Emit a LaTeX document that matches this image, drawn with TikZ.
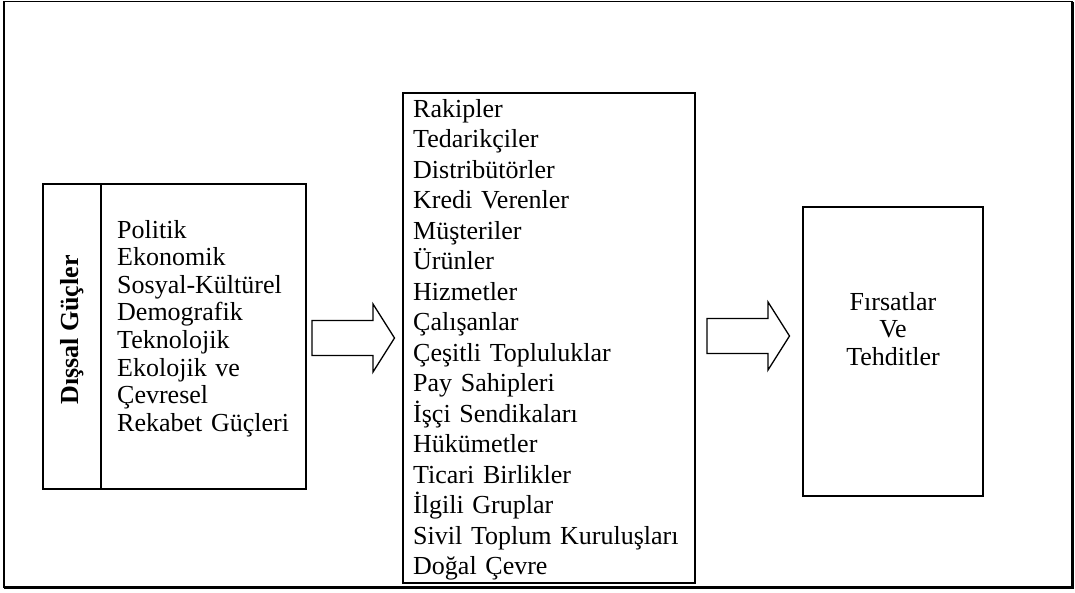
\documentclass[tikz,border=0pt]{standalone}
\usepackage{fontspec}
\setmainfont{Liberation Serif}
\usetikzlibrary{calc}
\begin{document}
\begin{tikzpicture}[x=1pt,y=-1pt,
  box/.style={draw, line width=1.8pt, rectangle, inner sep=0pt, outer sep=0pt},
  listtext/.style 2 args={font=\fontsize{26}{#2}\selectfont, anchor=base west,
    inner sep=0pt, text width=#1, align=left},
  arrowline/.style={draw, line width=1.3pt, fill=white, line join=miter},
  blockarrow/.pic={
    \path[arrowline] (0,-17.5) -- (61,-17.5) -- (61,-34) -- (82.5,0)
      -- (61,34) -- (61,17.5) -- (0,17.5) -- cycle;
  }]
  \useasboundingbox (0,0) rectangle (1075,592);

  % outer frame, heavier on the right and bottom
  \draw[line width=1.5pt] (4,1.5) rectangle (1072,587);
  \draw[line width=3pt] (1072,1.5) -- (1072,587) -- (4,587);

  % external forces box with its vertical title column
  \node[box, minimum width=263pt, minimum height=305pt] (forces) at (174.5,336.5) {};
  \draw[line width=1.8pt] ([xshift=58pt]forces.north west) -- ([xshift=58pt]forces.south west);
  \node[rotate=90, font=\bfseries\fontsize{26}{30}\selectfont, inner sep=0pt] (title) at (72,330) {Dışsal Güçler};
  \node[listtext={180pt}{27.6pt}] (forcelist) at (117,238)
    {Politik\\Ekonomik\\Sosyal-Kültürel\\Demografik\\Teknolojik\\Ekolojik ve\\Çevresel\\Rekabet Güçleri};

  % stakeholders box
  \node[box, minimum width=292pt, minimum height=490pt] (actors) at (549,338) {};
  \node[listtext={280pt}{30.5pt}] (actorlist) at (413,117)
    {Rakipler\\Tedarikçiler\\Distribütörler\\Kredi Verenler\\Müşteriler\\Ürünler\\Hizmetler\\Çalışanlar\\Çeşitli Topluluklar\\Pay Sahipleri\\İşçi Sendikaları\\Hükümetler\\Ticari Birlikler\\İlgili Gruplar\\Sivil Toplum Kuruluşları\\Doğal Çevre};

  % opportunities and threats box
  \node[box, minimum width=180pt, minimum height=289pt] (outcome) at (893,351.5) {};
  \node[font=\fontsize{26}{27.5}\selectfont, anchor=base, inner sep=0pt, text width=170pt, align=center] (outcometext) at (893,310)
    {Fırsatlar\\Ve\\Tehditler};

  % block arrows between the boxes
  \pic at ([xshift=6pt,yshift=-1.5pt]forces.east) {blockarrow};
  \pic at ([xshift=12pt,yshift=2pt]actors.east) {blockarrow};
\end{tikzpicture}
\end{document}
